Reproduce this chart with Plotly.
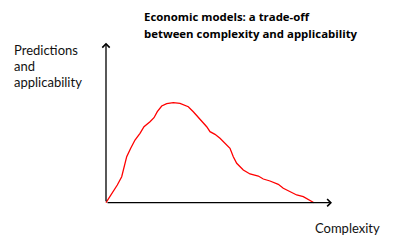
import plotly.graph_objects as go

# Curve: complexity vs predictions/applicability
complexity = [0, 4, 7.3, 11.3, 15.7, 18, 20.7, 24.7, 29, 34, 38, 44, 48, 51.3, 55.7,
              60.7, 67.3, 74, 82.3, 87.3, 94, 100.7, 104, 109, 114, 119, 124, 127.3,
              130.7, 137.3, 144, 152.3, 157.3, 164, 172.3, 177.3, 184, 190.7, 197.3,
              204, 208]
applicability = [0, 6, 10.4, 17.7, 26, 36, 46, 54.4, 62.7, 69.4, 76, 81, 85, 91, 96.7,
                 99, 100, 99.4, 96, 91, 83.7, 76, 71, 68.4, 64.4, 59.4, 54.4, 46,
                 39.4, 32.7, 28.7, 26.7, 23.7, 21.7, 18.4, 14.4, 11, 7.7, 6,
                 2.7, 0]

title_lines = ["Economic models: a trade-off", "between complexity and applicability"]
y_label_lines = ["Predictions", "and", "applicability"]
x_label = "Complexity"

x_axis_len = 226
y_axis_len = 160

fig = go.Figure()
fig.add_trace(go.Scatter(x=complexity, y=applicability, mode="lines",
                         line=dict(color="#ff0000", width=1.3),
                         hoverinfo="skip", showlegend=False))

annotations = []
# axis arrows
annotations.append(dict(x=x_axis_len, y=0, ax=0, ay=0, xref="x", yref="y", axref="x", ayref="y",
                        showarrow=True, arrowhead=4, arrowsize=1.1, arrowwidth=1.3,
                        arrowcolor="black", text=""))
annotations.append(dict(x=0, y=y_axis_len, ax=0, ay=0, xref="x", yref="y", axref="x", ayref="y",
                        showarrow=True, arrowhead=4, arrowsize=1.1, arrowwidth=1.3,
                        arrowcolor="black", text=""))
# title
for i, t in enumerate(title_lines):
    annotations.append(dict(x=36, y=186.7 - 17 * i, xref="x", yref="y", text="<b>" + t + "</b>",
                            showarrow=False, xanchor="left", yanchor="middle",
                            font=dict(family="Open Sans", size=11.4, color="black")))
# y label
for i, t in enumerate(y_label_lines):
    annotations.append(dict(x=-94, y=152.7 - 16 * i, xref="x", yref="y", text=t,
                            showarrow=False, xanchor="left", yanchor="middle",
                            font=dict(family="Lato", size=13, color="#111111")))
annotations.append(dict(x=207, y=-25.3, xref="x", yref="y", text=x_label,
                        showarrow=False, xanchor="left", yanchor="middle",
                        font=dict(family="Lato", size=13, color="#111111")))

fig.update_layout(
    width=400, height=242, margin=dict(l=0, r=0, t=0, b=0),
    paper_bgcolor="white", plot_bgcolor="white",
    xaxis=dict(range=[-106, 294], visible=False, fixedrange=True),
    yaxis=dict(range=[-39.3, 202.7], visible=False, fixedrange=True),
    annotations=annotations,
)
fig.write_html("out.html", config={"displayModeBar": False})
